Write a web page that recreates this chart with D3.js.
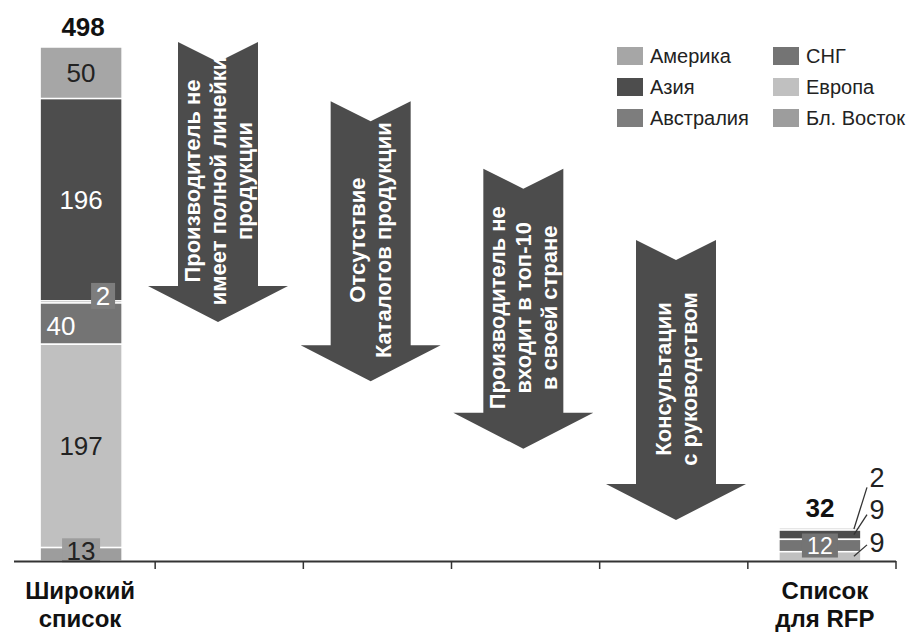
<!DOCTYPE html>
<html>
<head>
<meta charset="utf-8">
<script src="https://cdn.jsdelivr.net/npm/d3@7"></script>
<style>
  html, body { margin: 0; padding: 0; background: #fff; }
  svg { display: block; font-family: "Liberation Sans", Arial, sans-serif; }
</style>
</head>
<body>
<svg id="chart" width="919" height="634"></svg>
<script>
// Regions, listed top-to-bottom as they are stacked in each bar
const regions = ["Америка", "Азия", "Австралия", "СНГ", "Европа", "Бл. Восток"];
const regionColors = ["#a6a6a6", "#4d4d4d", "#7d7d7d", "#747474", "#c0c0c0", "#9d9d9d"];
// Dark fills get white value labels
const darkFill = [false, true, true, true, false, false];

// Manufacturers per region: broad list and final RFP list
const longList = [50, 196, 2, 40, 197, 13];
const rfpList = [2, 9, 0, 12, 9, 0];

// Bars and filtering steps along the x axis
const barNames = [["Широкий", "список"], ["Список", "для RFP"]];
const filterSteps = [
  ["Производитель не", "имеет полной линейки", "продукции"],
  ["Отсутствие", "Каталогов продукции"],
  ["Производитель не", "входит в топ-10", "в своей стране"],
  ["Консультации", "с руководством"]
];

const svg = d3.select("#chart");
const baseY = 561;

// One band per bar / filtering step
const slots = d3.range(filterSteps.length + 2);
const x = d3.scaleBand().domain(slots).range([7, 896]).paddingInner(0).paddingOuter(0);
const y = d3.scaleLinear().domain([0, d3.sum(longList)]).range([baseY, 47]);
const barW = 82;

// ---- Filter arrows ----
const arrowX = d3.scalePoint().domain(d3.range(filterSteps.length)).range([218, 676]);
const arrowTop = d3.scalePow().exponent(1.1).domain([0, filterSteps.length - 1]).range([42, 240]);
const arrowLen = 280, shaftHalf = 40, headHalf = 70, headLen = 36, notch = 20;

const arrows = svg.append("g").attr("class", "arrows")
  .selectAll("g").data(filterSteps).join("g")
  .attr("transform", (d, i) => `translate(${arrowX(i)},${arrowTop(i)})`);

arrows.append("path")
  .attr("fill", "#4c4c4c")
  .attr("d", d3.line()([
    [-shaftHalf, 0], [0, notch], [shaftHalf, 0],
    [shaftHalf, arrowLen - headLen], [headHalf, arrowLen - headLen],
    [0, arrowLen], [-headHalf, arrowLen - headLen],
    [-shaftHalf, arrowLen - headLen]
  ]) + "Z");

arrows.each(function(lines) {
  const g = d3.select(this);
  const gap = 26;
  const t = g.append("text")
    .attr("transform", `translate(0,${arrowLen / 2 - 1}) rotate(-90)`)
    .attr("text-anchor", "middle")
    .attr("fill", "#fff")
    .attr("font-weight", "bold")
    .attr("font-size", 22);
  lines.forEach((s, k) => {
    t.append("tspan")
      .attr("x", 0)
      .attr("y", (k - (lines.length - 1) / 2) * gap)
      .attr("dy", "0.35em")
      .text(s);
  });
});

// ---- Stacked bars ----
function stackBar(values) {
  // stacked bottom-up, so walk the list in reverse
  let acc = 0;
  const segs = [];
  for (let i = values.length - 1; i >= 0; i--) {
    segs[i] = { i, v: values[i], y0: acc, y1: acc + values[i] };
    acc += values[i];
  }
  return segs;
}

function drawBar(values, slot) {
  const cx = x(slot) + x.bandwidth() / 2 - (slot ? 2 : 0);
  const g = svg.append("g");
  const segs = stackBar(values).filter(s => s.v > 0);
  g.selectAll("rect").data(segs).join("rect")
    .attr("x", cx - barW / 2)
    .attr("width", barW)
    .attr("y", s => y(s.y1))
    .attr("height", s => y(s.y0) - y(s.y1))
    .attr("fill", s => regionColors[s.i])
    .attr("stroke", "#fff")
    .attr("stroke-width", 1.5);
  return { g, cx, segs, total: d3.sum(values) };
}

function valueText(g, tx, ty, txt, dark, size) {
  return g.append("text")
    .attr("x", tx).attr("y", ty).attr("dy", "0.36em")
    .attr("text-anchor", "middle")
    .attr("font-size", size || 26)
    .attr("fill", dark ? "#fff" : "#222")
    .text(txt);
}

function boxLabel(g, bx, by, w, h, s, size) {
  g.append("rect")
    .attr("x", bx - w / 2).attr("y", by - h / 2)
    .attr("width", w).attr("height", h)
    .attr("fill", regionColors[s.i]);
  valueText(g, bx, by, s.v, darkFill[s.i], size);
}

function totalLabel(g, cx, total) {
  g.append("text")
    .attr("x", cx).attr("y", y(total) - 11)
    .attr("text-anchor", "middle")
    .attr("font-weight", "bold").attr("font-size", 26)
    .attr("fill", "#111")
    .text(total);
}

// Broad list
{
  const b = drawBar(longList, 0);
  const right = b.cx + barW / 2;
  let tinyAbove = false;
  b.segs.forEach(s => {
    const mid = (y(s.y0) + y(s.y1)) / 2;
    if (s.v < 5) {
      // tiny slice: boxed label sitting on the bar's right edge
      boxLabel(b.g, right - 19, mid - 6, 24, 26, s, 26);
      tinyAbove = true;
    } else if (s.v < 20) {
      boxLabel(b.g, b.cx, mid - 4, 38, 24, s, 26);
    } else {
      const tx = tinyAbove ? b.cx - 20 : b.cx;
      valueText(b.g, tx, tinyAbove ? mid + 2 : mid, s.v, darkFill[s.i]);
      tinyAbove = false;
    }
  });
  totalLabel(b.g, b.cx + 2, b.total);
}

// RFP list
{
  const b = drawBar(rfpList, slots.length - 1);
  const right = b.cx + barW / 2;
  const biggest = d3.greatest(b.segs, s => s.v);
  const outside = b.segs.filter(s => s !== biggest);
  const labX = 877;
  const labY = d3.scaleLinear().domain([0, outside.length - 1]).range([477, 542]);
  outside.forEach((s, k) => {
    const mid = (y(s.y0) + y(s.y1)) / 2;
    const ly = labY(k);
    b.g.append("line")
      .attr("x1", labX - 10).attr("y1", ly + (mid - ly) * 0.2)
      .attr("x2", right - 7).attr("y2", mid)
      .attr("stroke", "#333").attr("stroke-width", 1.3);
    valueText(b.g, labX, ly, s.v, false, 27);
  });
  const bm = (y(biggest.y0) + y(biggest.y1)) / 2;
  boxLabel(b.g, b.cx, bm, 36, 24, biggest, 23);
  totalLabel(b.g, b.cx, b.total);
}

// ---- Axis: ticks at band boundaries ----
const axis = svg.append("g");
axis.append("line")
  .attr("x1", 14).attr("x2", x.range()[1])
  .attr("y1", baseY + 0.5).attr("y2", baseY + 0.5)
  .attr("stroke", "#333").attr("stroke-width", 2);
axis.selectAll("line.tick").data(slots).join("line")
  .attr("class", "tick")
  .attr("x1", d => x(d) + x.bandwidth()).attr("x2", d => x(d) + x.bandwidth())
  .attr("y1", baseY).attr("y2", baseY + 8)
  .attr("stroke", "#333").attr("stroke-width", 1.5);

// Bar names below the axis
[0, slots.length - 1].forEach((slot, k) => {
  const cx = x(slot) + x.bandwidth() / 2 + (k ? 3 : -1);
  const t = axis.append("text")
    .attr("y", 599)
    .attr("text-anchor", "middle")
    .attr("font-weight", "bold").attr("font-size", 24)
    .attr("fill", "#111");
  barNames[k].forEach((s, j) => {
    t.append("tspan").attr("x", cx).attr("dy", j ? 28 : 0).text(s);
  });
});

// ---- Legend: two columns of three ----
const legend = svg.append("g")
  .selectAll("g").data(regions).join("g")
  .attr("transform", (d, i) => `translate(${617 + Math.floor(i / 3) * 156},${56 + (i % 3) * 31})`);
legend.append("rect")
  .attr("x", 0).attr("y", -9).attr("width", 26).attr("height", 18)
  .attr("fill", (d, i) => regionColors[i]);
legend.append("text")
  .attr("x", 33).attr("y", 0).attr("dy", "0.35em")
  .attr("font-size", 20).attr("fill", "#222")
  .text(d => d);
</script>
</body>
</html>
